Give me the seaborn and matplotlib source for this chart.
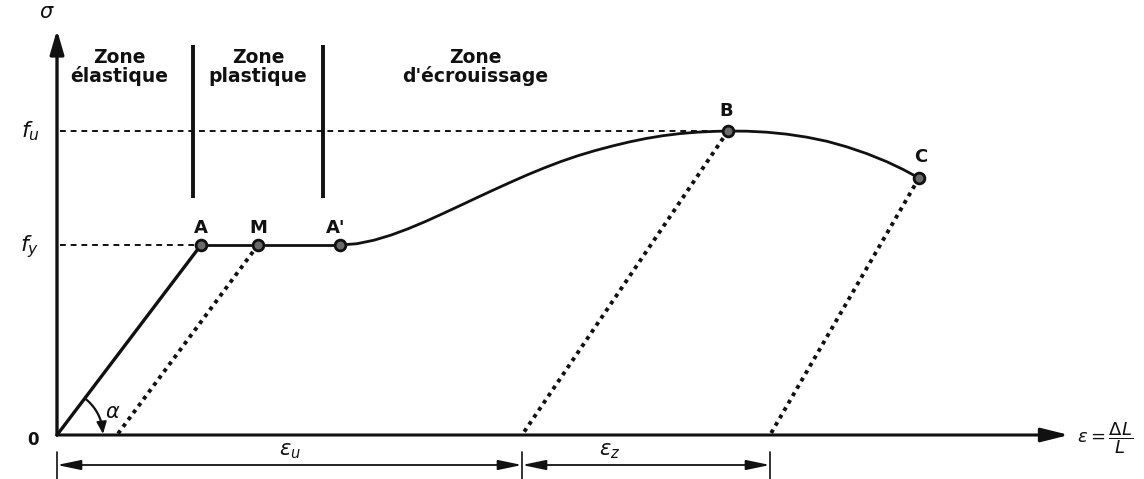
import numpy as np
import pandas as pd
import matplotlib
matplotlib.use("Agg")
import matplotlib.pyplot as plt
import seaborn as sns

# Stress-strain diagram of steel (arbitrary units: strain right, stress up)
fu = 304          # ultimate strength
fy = 190          # yield strength

# Characteristic points
point_names = ["A", "M", "A'", "B", "C"]
point_eps = [144, 201, 283, 671, 862]
point_sig = [190, 190, 190, 304, 257]

# Elastic branch O -> A and yield plateau A -> A'
elastic_eps = [0, 144]
elastic_sig = [0, 190]
plateau_eps = [144, 283]
plateau_sig = [190, 190]

# Strain-hardening curve A' -> B -> C
hard_eps = [283, 300, 317, 334, 351, 368, 385, 402, 419, 436, 453, 470, 487,
            504, 521, 538, 555, 572, 589, 606, 623, 640, 657, 671,
            690, 710, 730, 750, 770, 790, 810, 830, 846, 862]
hard_sig = [190.0, 191.3, 194.8, 199.9, 206.2, 213.3, 221.0, 228.9, 236.9,
            244.8, 252.5, 260.0, 267.0, 273.5, 279.3, 284.4, 288.9, 293.0,
            296.5, 299.3, 301.4, 302.8, 303.6, 304.0,
            303.8, 302.8, 300.8, 297.8, 293.7, 288.1, 281.3, 273.2, 265.6, 257.0]

# Unloading lines (dotted): from point down to the strain axis
unload_from = ["M", "B", "C"]
unload_end_eps = [60, 465, 713]

# Strain markers on the dimension line
eps_u_end = 465
eps_z_end = 713

# Zone limits
zone_x = [136, 266]
zone_labels = ["Zone\nélastique", "Zone\nplastique", "Zone\nd'écrouissage"]
zone_label_x = [62, 201, 418]

sns.set_theme(style="white")
plt.rcParams["font.family"] = ["DejaVu Sans"]
plt.rcParams["mathtext.fontset"] = "dejavusans"

fig = plt.figure(figsize=(11.44, 4.79), dpi=100)
ax = fig.add_axes([0, 0, 1, 1])
ax.set_xlim(-57, 1087)
ax.set_ylim(-44, 435)
ax.axis("off")

ink = "#111111"

# Axes with arrows
ax.annotate("", xy=(1012, 0), xytext=(0, 0),
            arrowprops=dict(arrowstyle="-|>,head_length=1.4,head_width=0.35",
                            color=ink, lw=2.2, shrinkA=0, shrinkB=0))
ax.annotate("", xy=(0, 405), xytext=(0, 0),
            arrowprops=dict(arrowstyle="-|>,head_length=1.2,head_width=0.35",
                            color=ink, lw=2.4, shrinkA=0, shrinkB=0))

# Reference dashed lines for fu and fy
ax.plot([3, point_eps[3]], [fu, fu], ls=(0, (3, 2.5)), color=ink, lw=1.4)
ax.plot([3, point_eps[0]], [fy, fy], ls=(0, (3, 2.5)), color=ink, lw=1.4)

# Curve
df_el = pd.DataFrame({"eps": elastic_eps, "sig": elastic_sig})
df_pl = pd.DataFrame({"eps": plateau_eps, "sig": plateau_sig})
df_hd = pd.DataFrame({"eps": hard_eps, "sig": hard_sig})
sns.lineplot(data=df_el, x="eps", y="sig", ax=ax, color=ink, lw=2.4, sort=False)
sns.lineplot(data=df_pl, x="eps", y="sig", ax=ax, color=ink, lw=2.0, sort=False)
sns.lineplot(data=df_hd, x="eps", y="sig", ax=ax, color=ink, lw=2.0, sort=False)

# Unloading dotted lines
for name, e_end in zip(unload_from, unload_end_eps):
    i = point_names.index(name)
    ax.plot([point_eps[i], e_end], [point_sig[i], 0], ls=(0, (1, 1.2)),
            color=ink, lw=2.8)

# Characteristic points
df_pts = pd.DataFrame({"eps": point_eps, "sig": point_sig, "name": point_names})
sns.scatterplot(data=df_pts, x="eps", y="sig", ax=ax, s=60, color="#6a6a6a",
                edgecolor=ink, linewidth=2.0, zorder=5, legend=False)
label_dx = [0, 0, -4, -2, 2]
label_dy = [17, 17, 17, 20, 21]
for n, e, s, dx, dy in zip(point_names, point_eps, point_sig, label_dx, label_dy):
    ax.text(e + dx, s + dy, n, ha="center", va="center", fontsize=13,
            fontweight="bold", color=ink)

# Zone separators and labels
for x in zone_x:
    ax.plot([x, x], [390, 237], color=ink, lw=2.8, solid_capstyle="butt")
for lbl, x in zip(zone_labels, zone_label_x):
    ax.text(x, 368, lbl, ha="center", va="center", fontsize=13.5,
            fontweight="bold", color=ink, linespacing=0.95)

# Angle alpha
ang = np.arctan2(elastic_sig[1], elastic_eps[1])
t = np.linspace(ang - 0.03, 0.18, 40)
r = 46
ax.plot(r * np.cos(t), r * np.sin(t), color=ink, lw=1.6)
ax.annotate("", xy=(r, 1), xytext=(r * np.cos(0.2), r * np.sin(0.2)),
            arrowprops=dict(arrowstyle="-|>,head_length=0.6,head_width=0.25",
                            color=ink, lw=1.4, shrinkA=0, shrinkB=0))
ax.text(56, 23, r"$\alpha$", fontsize=15, ha="center", va="center", color=ink)

# Axis labels
ax.text(-10, 423, r"$\sigma$", fontsize=15, ha="center", va="center", color=ink)
ax.text(-27, fu, r"$f_u$", fontsize=16, ha="center", va="center", color=ink)
ax.text(-27, fy - 2, r"$f_y$", fontsize=16, ha="center", va="center", color=ink)
ax.text(-24, -5, "0", fontsize=12, ha="center", va="center", color=ink,
        fontweight="bold")
ax.text(1048, -3, r"$\varepsilon = \dfrac{\Delta L}{L}$", fontsize=13,
        ha="center", va="center", color=ink)

# Dimension lines for eps_u and eps_z
y_dim = -30
for x in [0, eps_u_end, eps_z_end]:
    ax.plot([x, x], [-17, -44], color=ink, lw=1.2)
for x0, x1 in [(0, eps_u_end), (eps_u_end, eps_z_end)]:
    ax.annotate("", xy=(x1, y_dim), xytext=(x0, y_dim),
                arrowprops=dict(arrowstyle="<|-|>,head_length=1.2,head_width=0.25",
                                color=ink, lw=1.3, shrinkA=0, shrinkB=0))
ax.text(233, -16, r"$\varepsilon_u$", fontsize=15, ha="center", va="center", color=ink)
ax.text(553, -16, r"$\varepsilon_z$", fontsize=15, ha="center", va="center", color=ink)

fig.savefig("out.png", dpi=100, facecolor="white")
